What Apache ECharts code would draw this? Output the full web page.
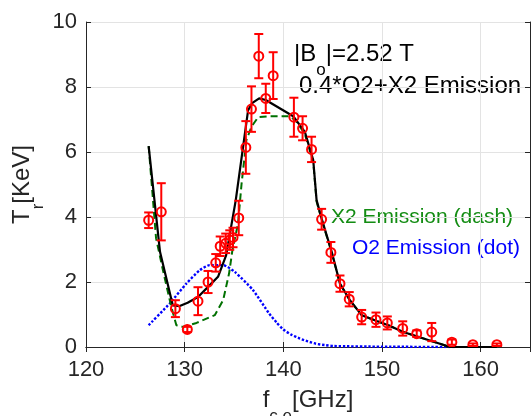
<!DOCTYPE html>
<html lang="en">
<head>
  <meta charset="UTF-8">
  <title>Tr vs fce</title>
  <style>
    html, body {margin: 0; padding: 0; background: #fff;}
    #chart {width: 531px; height: 416px;}
  </style>
</head>
<body>
  <div id="chart"></div>

  <script src="https://cdn.jsdelivr.net/npm/echarts@6/dist/echarts.min.js"></script>
  <script>
    // measured points (f in GHz, Tr in keV, error)
    var measF = [126.35, 127.63, 129.06, 130.27, 131.35, 132.37, 133.15, 133.6, 134.16, 134.57, 134.9,
                 135.48, 136.2, 136.77, 137.51, 138.22, 138.97, 141.07, 141.95, 142.86, 143.88, 144.82,
                 145.74, 146.68, 147.94, 149.39, 150.54, 152.1, 153.52, 155.04, 157.08, 159.21, 161.64];
    var measT = [3.90, 4.16, 1.18, 0.54, 1.41, 2.00, 2.59, 3.10, 3.19, 3.29, 3.37,
                 3.97, 6.14, 7.32, 8.95, 7.65, 8.35, 7.07, 6.73, 6.08, 3.93, 2.91,
                 1.95, 1.47, 0.92, 0.84, 0.74, 0.57, 0.41, 0.46, 0.15, 0.07, 0.07];
    var measErr = [0.24, 0.88, 0.26, 0.08, 0.43, 0.34, 0.27, 0.30, 0.30, 0.30, 0.30,
                   0.53, 0.81, 0.70, 0.68, 0.45, 0.72, 0.60, 0.37, 0.39, 0.32, 0.32,
                   0.25, 0.22, 0.22, 0.22, 0.20, 0.22, 0.10, 0.28, 0.08, 0.04, 0.04];

    // 0.4*O2+X2 (solid black)
    var fitF = [126.35, 127.5, 128.8, 129.5, 130.3, 131.35, 132.37, 133.38, 134.2, 135.18, 135.92, 136.43,
                136.87, 137.55, 138.22, 141.0, 142.18, 143.03, 143.37, 143.88, 144.9, 145.74, 146.75,
                147.94, 149.46, 150.64, 152.16, 156.9, 161.64];
    var fitT = [6.18, 2.93, 1.28, 1.26, 1.36, 1.54, 1.85, 2.16, 2.82, 4.52, 6.16, 7.29,
                7.51, 7.65, 7.6, 7.1, 6.62, 5.75, 4.52, 3.95, 2.93, 1.95, 1.44,
                0.98, 0.8, 0.67, 0.46, 0.0, 0.0];

    // X2 emission (dash)
    var x2F = [126.35, 127.1, 127.8, 128.65, 129.16, 129.8, 131.2, 133.05, 133.9, 134.5, 134.84, 135.41,
               135.76, 136.26, 136.77, 137.45, 138.63, 140.66, 141.3, 142.18, 143.03, 143.37, 143.88,
               144.9, 145.74, 146.75, 147.94, 149.46, 150.64, 152.16, 156.9, 161.64];
    var x2T = [6.18, 3.35, 2.36, 1.23, 0.67, 0.62, 0.74, 0.98, 1.44, 2.26, 2.98, 3.8,
               5.0, 6.37, 6.78, 7.07, 7.1, 7.1, 6.95, 6.55, 5.7, 4.48, 3.92,
               2.91, 1.94, 1.43, 0.98, 0.8, 0.67, 0.46, 0.0, 0.0];

    // O2 emission (dot)
    var o2F = [126.35, 128.48, 130.17, 131.52, 132.54, 133.89, 135.08, 136.93, 138.56, 139.3, 140.0,
               140.8, 141.68, 142.5, 143.3, 144.2, 145.06, 150.0, 157.5];
    var o2T = [0.67, 1.34, 1.95, 2.36, 2.52, 2.52, 2.31, 1.75, 1.03, 0.76, 0.54,
               0.38, 0.26, 0.17, 0.1, 0.06, 0.03, 0.01, 0.0];

    var xTicks = [120, 130, 140, 150, 160];

    function pairs(a, b) {
      return a.map(function (v, i) { return [v, b[i]]; });
    }

    var ink = '#262626';
    var font = '"Liberation Sans", Arial, Helvetica, sans-serif';
    // fixed line height so the subscript padding does not move the block
    var nameRich = {
      m: {fontSize: 24, lineHeight: 30, fontFamily: font, color: ink, verticalAlign: 'top'},
      s: {fontSize: 17, lineHeight: 30, fontFamily: font, color: ink, verticalAlign: 'top', padding: [20, 0, 0, 0]}
    };

    var chart = echarts.init(document.getElementById('chart'));

    var option = {
      animation: false,
      grid: {left: 86, right: 1, top: 22, bottom: 69, outerBoundsMode: 'none'},
      xAxis: [{
        type: 'value', min: 120, max: 165, interval: 10,
        name: '{m|f}{s|c,e}{m|[GHz]}', nameLocation: 'middle', nameGap: 41, nameMoveOverlap: false,
        nameTextStyle: {rich: nameRich},
        axisLine: {lineStyle: {color: ink, width: 1}},
        axisTick: {inside: true, length: 5, lineStyle: {color: ink}},
        axisLabel: {
          margin: 12, fontSize: 22, fontFamily: font, color: ink,
          formatter: function (v) { return xTicks.indexOf(v) >= 0 ? String(v) : ''; }
        },
        splitLine: {show: true, lineStyle: {color: '#e3e3e3', width: 1}}
      }, {
        type: 'value', min: 120, max: 165, interval: 10, position: 'top',
        axisLine: {lineStyle: {color: ink, width: 1}},
        axisTick: {inside: true, length: 5, lineStyle: {color: ink}},
        axisLabel: {show: false}, splitLine: {show: false}
      }],
      yAxis: [{
        type: 'value', min: 0, max: 10, interval: 2,
        name: '{m|T}{s|r}{m|[KeV]}', nameLocation: 'middle', nameGap: 46, nameRotate: 90,
        nameMoveOverlap: false,
        nameTextStyle: {rich: nameRich},
        axisLine: {show: true, lineStyle: {color: ink, width: 1}},
        axisTick: {show: true, inside: true, length: 5, lineStyle: {color: ink}},
        axisLabel: {margin: 9, fontSize: 22, fontFamily: font, color: ink},
        splitLine: {show: true, lineStyle: {color: '#e3e3e3', width: 1}}
      }, {
        type: 'value', min: 0, max: 10, interval: 2, position: 'right',
        axisLine: {show: true, lineStyle: {color: ink, width: 1}},
        axisTick: {show: true, inside: true, length: 5, lineStyle: {color: ink}},
        axisLabel: {show: false}, splitLine: {show: false}
      }],
      graphic: [{
        type: 'text', left: 294, top: 42,
        style: {
          text: '{m||B}{s|o}{m||=2.52 T}',
          rich: {
            m: {fontSize: 24, lineHeight: 30, fontFamily: font, fill: '#000', verticalAlign: 'top'},
            s: {fontSize: 17, lineHeight: 30, fontFamily: font, fill: '#000', verticalAlign: 'top', padding: [20, 0, 0, 0]}
          }
        }
      }, {
        type: 'text', left: 299, top: 74,
        style: {text: '0.4*O2+X2 Emission', fontSize: 24, fontFamily: font, fill: '#000'}
      }, {
        type: 'text', left: 331, top: 207,
        style: {text: 'X2 Emission (dash)', fontSize: 21, fontFamily: font, fill: '#138c13'}
      }, {
        type: 'text', left: 352, top: 238,
        style: {text: 'O2 Emission (dot)', fontSize: 21, fontFamily: font, fill: '#0000ff'}
      }],
      series: [{
        name: 'O2', type: 'line', data: pairs(o2F, o2T), showSymbol: false, z: 2, smooth: 0.2,
        lineStyle: {color: '#0000ff', width: 2.4, type: [2.4, 1.8]}
      }, {
        name: 'X2', type: 'line', data: pairs(x2F, x2T), showSymbol: false, z: 3,
        lineStyle: {color: '#007000', width: 2, type: [7, 4]}
      }, {
        name: 'fit', type: 'line', data: pairs(fitF, fitT), showSymbol: false, z: 4,
        lineStyle: {color: '#000', width: 2.2}
      }, {
        name: 'meas', type: 'custom', z: 5, clip: true,
        data: measF.map(function (f, i) { return [f, measT[i], measErr[i]]; }),
        renderItem: function (params, api) {
          var x = api.value(0), y = api.value(1), e = api.value(2);
          var c = api.coord([x, y]);
          var hi = api.coord([x, y + e]);
          var lo = api.coord([x, y - e]);
          var w = 4.5;
          var st = {stroke: '#ff0000', lineWidth: 2};
          return {
            type: 'group',
            children: [
              {type: 'line', shape: {x1: c[0], y1: hi[1], x2: c[0], y2: lo[1]}, style: st},
              {type: 'line', shape: {x1: c[0] - w, y1: hi[1], x2: c[0] + w, y2: hi[1]}, style: st},
              {type: 'line', shape: {x1: c[0] - w, y1: lo[1], x2: c[0] + w, y2: lo[1]}, style: st},
              {type: 'circle', shape: {cx: c[0], cy: c[1], r: 4.5}, style: {fill: 'none', stroke: '#ff0000', lineWidth: 2}}
            ]
          };
        }
      }]
    };

    chart.setOption(option);
  </script>
</body>
</html>
